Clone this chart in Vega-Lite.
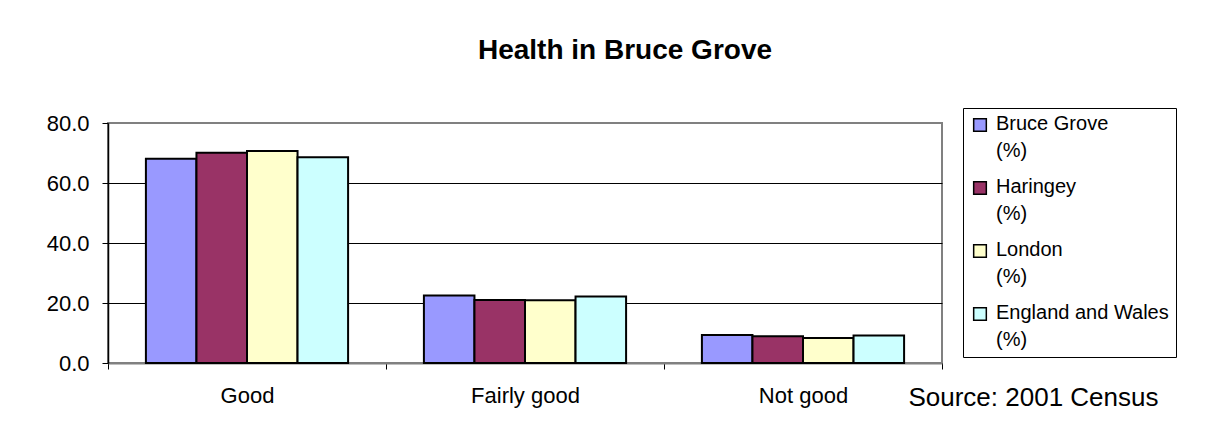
{
  "$schema": "https://vega.github.io/schema/vega-lite/v6.json",
  "autosize": "none",
  "width": 834,
  "height": 240,
  "padding": {"left": 108, "top": 123, "right": 278, "bottom": 79},
  "background": "white",
  "title": {
    "text": "Health in Bruce Grove",
    "font": "Liberation Sans",
    "fontSize": 28,
    "fontWeight": "bold",
    "color": "black",
    "anchor": "middle",
    "dx": 100,
    "offset": 43
  },
  "data": {
    "values": [
      {"health": "Good", "area": "Bruce Grove (%)", "pct": 68.1},
      {"health": "Good", "area": "Haringey (%)", "pct": 70.1},
      {"health": "Good", "area": "London (%)", "pct": 70.7},
      {"health": "Good", "area": "England and Wales (%)", "pct": 68.6},
      {"health": "Fairly good", "area": "Bruce Grove (%)", "pct": 22.5},
      {"health": "Fairly good", "area": "Haringey (%)", "pct": 21.0},
      {"health": "Fairly good", "area": "London (%)", "pct": 20.9},
      {"health": "Fairly good", "area": "England and Wales (%)", "pct": 22.2},
      {"health": "Not good", "area": "Bruce Grove (%)", "pct": 9.3},
      {"health": "Not good", "area": "Haringey (%)", "pct": 8.9},
      {"health": "Not good", "area": "London (%)", "pct": 8.3},
      {"health": "Not good", "area": "England and Wales (%)", "pct": 9.2}
    ]
  },
  "mark": {"type": "bar", "stroke": "black", "strokeWidth": 2},
  "encoding": {
    "x": {
      "field": "health",
      "type": "nominal",
      "sort": ["Good", "Fairly good", "Not good"],
      "scale": {"paddingInner": 0, "paddingOuter": 0},
      "axis": {
        "title": "Source: 2001 Census",
        "titleFont": "Liberation Sans",
        "titleFontSize": 26,
        "titleFontWeight": "normal",
        "titleColor": "black",
        "titleAlign": "right",
        "titleBaseline": "alphabetic",
        "titleAnchor": null,
        "titleX": 1050,
        "titleY": 42,
        "labelAngle": 0,
        "labelFont": "Liberation Sans",
        "labelFontSize": 22,
        "labelColor": "black",
        "labelPadding": 16,
        "tickBand": "extent",
        "tickColor": "black",
        "tickSize": 6,
        "domainColor": "#808080",
        "domainWidth": 2
      }
    },
    "xOffset": {
      "field": "area",
      "type": "nominal",
      "sort": ["Bruce Grove (%)", "Haringey (%)", "London (%)", "England and Wales (%)"],
      "scale": {"paddingInner": 0, "paddingOuter": 0.75}
    },
    "y": {
      "field": "pct",
      "type": "quantitative",
      "scale": {"domain": [0, 80]},
      "axis": {
        "title": null,
        "values": [0, 20, 40, 60, 80],
        "format": ".1f",
        "labelFont": "Liberation Sans",
        "labelFontSize": 22,
        "labelColor": "black",
        "labelPadding": 13,
        "tickColor": "black",
        "tickSize": 6,
        "domainColor": "black",
        "domainWidth": 1.5,
        "gridColor": {"condition": {"test": "datum.value == 80", "value": "#808080"}, "value": "black"},
        "gridOpacity": 1,
        "gridWidth": 1
      }
    },
    "fill": {
      "field": "area",
      "type": "nominal",
      "sort": ["Bruce Grove (%)", "Haringey (%)", "London (%)", "England and Wales (%)"],
      "scale": {"range": ["#9999FF", "#993366", "#FFFFCC", "#CCFFFF"]},
      "legend": {
        "title": null,
        "orient": "none",
        "legendX": 855,
        "legendY": -15,
        "strokeColor": "black",
        "padding": 7,
        "symbolType": "square",
        "symbolSize": 160,
        "symbolStrokeColor": "black",
        "symbolStrokeWidth": 1.5,
        "symbolOpacity": 1,
        "labelFont": "Liberation Sans",
        "labelFontSize": 20,
        "labelColor": "black",
        "labelLimit": 300,
        "labelOffset": 6,
        "labelExpr": "split(datum.label, ' (')[0] == datum.label ? datum.label : [split(datum.label, ' (')[0], '(%)']",
        "labelBaseline": "top",
        "rowPadding": 16,
        "encode": {
          "labels": {"update": {"lineHeight": {"value": 27}, "dy": {"value": -11}}}
        }
      }
    }
  },
  "config": {
    "view": {"stroke": "#808080", "strokeWidth": 2}
  }
}
